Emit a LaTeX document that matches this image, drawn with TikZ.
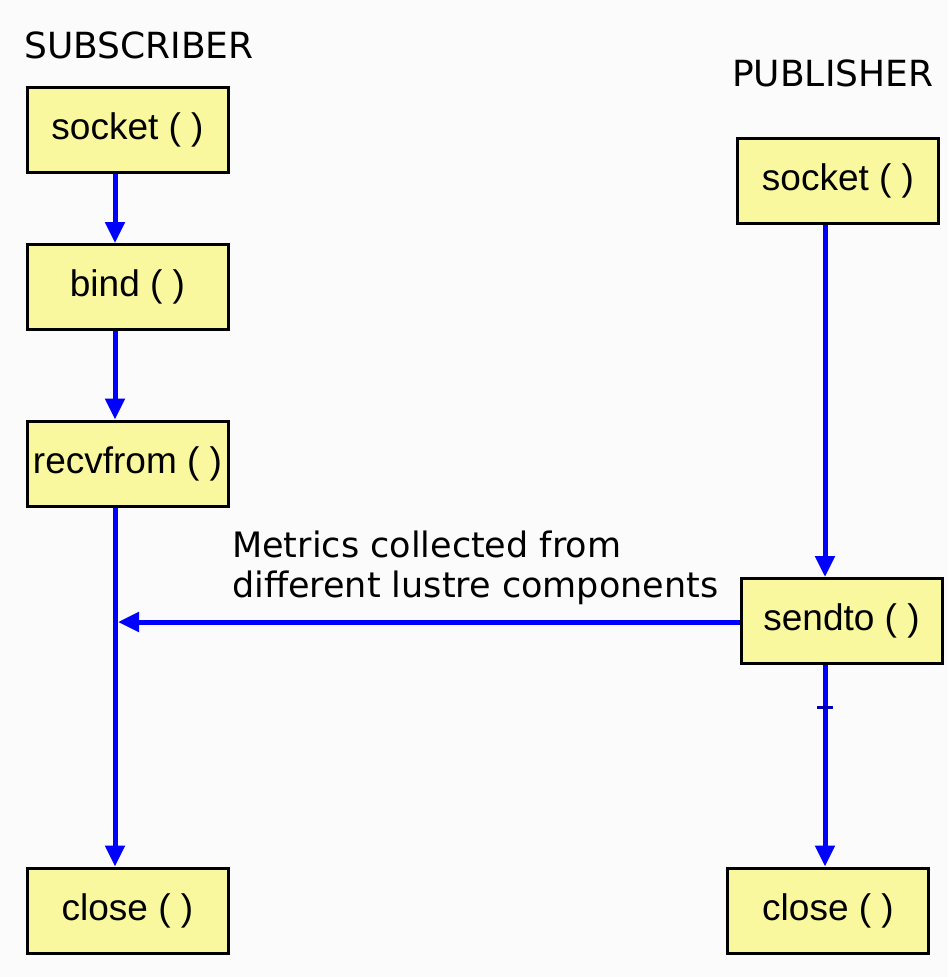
\documentclass[tikz,border=0pt]{standalone}
\usepackage{fontspec}
\setmainfont{Liberation Sans}
\newfontfamily\labelfont{DejaVu Sans}
\usetikzlibrary{arrows.meta}

\definecolor{boxfill}{RGB}{250,248,158}
\definecolor{flowblue}{RGB}{0,0,255}
\definecolor{paper}{RGB}{251,251,251}

\tikzset{
  callbox/.style={draw=black, line width=3pt, fill=boxfill, inner sep=0pt,
    minimum width=201pt, minimum height=85pt,
    font=\fontsize{37}{40}\selectfont},
  flow/.style={draw=flowblue, line width=5pt},
  flowarrow/.style={flow, -{Triangle[length=21pt,width=19pt]}},
  rolelabel/.style={anchor=west, inner sep=0pt, font=\labelfont\fontsize{36}{40}\selectfont},
}

\begin{document}
\begin{tikzpicture}[x=1pt, y=-1pt]
  % canvas
  \fill[paper] (0,0) rectangle (948,977);
  \useasboundingbox (0,0) rectangle (948,977);

  % role headings
  \node[rolelabel] (sublabel) at (24,45) {SUBSCRIBER};
  \node[rolelabel] (publabel) at (732,73) {PUBLISHER};

  % subscriber calls
  \node[callbox] (ssocket) at (127.5,129.5) {socket ( )};
  \node[callbox] (sbind)   at (127.5,287)   {bind ( )};
  \node[callbox] (srecv)   at (127.5,463.5) {recvfrom ( )};
  \node[callbox] (sclose)  at (127.5,910.5) {close ( )};

  % publisher calls
  \node[callbox] (psocket) at (838,181) {socket ( )};
  \node[callbox] (psend)   at (841.5,621) {sendto ( )};
  \node[callbox] (pclose)  at (828,910.5) {close ( )};

  % subscriber flow
  \coordinate (ssx) at (115,0);
  \coordinate (join) at (115,622);
  \draw[flowarrow] (ssocket.south -| ssx) -- (sbind.north -| ssx);
  \draw[flowarrow] (sbind.south -| ssx) -- (srecv.north -| ssx);
  \draw[flowarrow] (srecv.south -| ssx) -- (sclose.north -| ssx);

  % publisher flow
  \coordinate (psx) at (825,0);
  \draw[flowarrow] (psocket.south -| psx) -- (psend.north -| psx);
  \draw[flowarrow] (psend.south -| psx) -- (pclose.north -| psx);
  \coordinate (tick) at (825,707);
  \draw[draw=flowblue!70!black, line width=3pt] ([xshift=-8pt]tick) -- ([xshift=8pt]tick);

  % datagram from publisher to subscriber
  \draw[flowarrow] (psend.west |- join) -- ([xshift=3pt]join);
  \node[anchor=north west, inner sep=0pt, align=left,
        font=\labelfont\fontsize{35}{40}\selectfont] (msg) at (232,531)
        {Metrics collected from\\different lustre components};
\end{tikzpicture}
\end{document}
